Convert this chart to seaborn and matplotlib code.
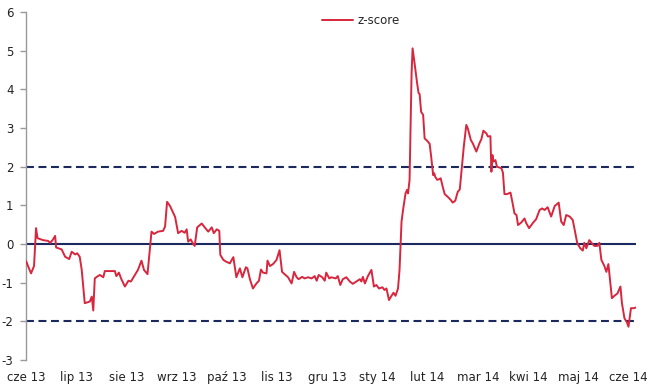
import matplotlib
matplotlib.use("Agg")
import matplotlib.pyplot as plt
import seaborn as sns
import pandas as pd

# months since "cze 13" (category-axis position) and z-score readings
t_month = [0.00, 0.10, 0.16, 0.20, 0.23, 0.34, 0.44, 0.48, 0.53, 0.58, 0.60, 0.71, 0.78, 0.86, 0.91,
           0.98, 1.02, 1.07, 1.11, 1.17, 1.27, 1.31, 1.34, 1.37, 1.41, 1.47, 1.54, 1.57, 1.71, 1.77,
           1.80, 1.85, 1.90, 1.97, 2.04, 2.09, 2.17, 2.23, 2.30, 2.35, 2.42, 2.50, 2.55, 2.63, 2.73,
           2.77, 2.81, 2.87, 2.97, 3.03, 3.10, 3.16, 3.20, 3.23, 3.28, 3.32, 3.36, 3.41, 3.50, 3.56,
           3.63, 3.70, 3.74, 3.80, 3.85, 3.87, 3.93, 3.99, 4.06, 4.13, 4.19, 4.26, 4.31, 4.38, 4.41,
           4.46, 4.52, 4.59, 4.64, 4.68, 4.72, 4.79, 4.81, 4.86, 4.92, 4.99, 5.05, 5.10, 5.15, 5.22,
           5.29, 5.34, 5.39, 5.43, 5.50, 5.55, 5.62, 5.69, 5.75, 5.79, 5.83, 5.90, 5.95, 5.98, 6.04,
           6.08, 6.17, 6.21, 6.26, 6.31, 6.38, 6.45, 6.51, 6.58, 6.65, 6.68, 6.71, 6.75, 6.81, 6.88,
           6.93, 6.98, 7.03, 7.10, 7.14, 7.18, 7.23, 7.28, 7.32, 7.36, 7.41, 7.44, 7.48, 7.51, 7.56,
           7.59, 7.61, 7.64, 7.68, 7.70, 7.74, 7.79, 7.82, 7.84, 7.87, 7.91, 7.94, 7.99, 8.04, 8.07,
           8.11, 8.13, 8.15, 8.19, 8.22, 8.26, 8.30, 8.34, 8.40, 8.46, 8.50, 8.55, 8.60, 8.64, 8.67,
           8.72, 8.77, 8.80, 8.86, 8.90, 8.97, 9.03, 9.07, 9.11, 9.17, 9.20, 9.25, 9.27, 9.29, 9.31,
           9.35, 9.38, 9.47, 9.50, 9.53, 9.58, 9.65, 9.69, 9.73, 9.77, 9.80, 9.86, 9.93, 9.96, 10.02,
           10.10, 10.16, 10.23, 10.28, 10.33, 10.39, 10.46, 10.53, 10.61, 10.66, 10.71, 10.76, 10.83, 10.89, 10.93,
           10.98, 11.04, 11.09, 11.12, 11.16, 11.22, 11.27, 11.32, 11.38, 11.42, 11.46, 11.52, 11.56, 11.60, 11.67,
           11.72, 11.78, 11.84, 11.87, 11.92, 11.97, 12.00, 12.05, 12.11, 12.15]

z_score = [-0.44, -0.76, -0.57, 0.41, 0.15, 0.10, 0.08, 0.03, 0.10, 0.21, -0.09, -0.14, -0.33, -0.39, -0.20,
           -0.27, -0.24, -0.33, -0.67, -1.53, -1.49, -1.36, -1.72, -0.89, -0.85, -0.80, -0.86, -0.70, -0.70, -0.70,
           -0.83, -0.74, -0.91, -1.10, -0.95, -0.97, -0.80, -0.67, -0.43, -0.67, -0.78, 0.32, 0.26, 0.32, 0.34,
           0.45, 1.09, 0.98, 0.70, 0.28, 0.34, 0.29, 0.38, 0.06, 0.12, 0.02, -0.05, 0.43, 0.53, 0.43,
           0.32, 0.43, 0.28, 0.38, 0.34, -0.28, -0.41, -0.46, -0.50, -0.34, -0.86, -0.63, -0.86, -0.60, -0.63,
           -0.91, -1.15, -1.02, -0.95, -0.66, -0.74, -0.76, -0.43, -0.57, -0.52, -0.41, -0.16, -0.72, -0.78, -0.86,
           -1.02, -0.72, -0.86, -0.91, -0.85, -0.89, -0.86, -0.89, -0.83, -0.95, -0.80, -0.86, -0.95, -0.74, -0.89,
           -0.86, -0.89, -0.83, -1.06, -0.91, -0.86, -0.97, -1.03, -0.97, -0.91, -0.97, -0.85, -1.02, -0.83, -0.67,
           -1.10, -1.06, -1.15, -1.12, -1.19, -1.15, -1.45, -1.34, -1.26, -1.34, -1.15, -0.67, 0.58, 0.88, 1.31,
           1.40, 1.31, 1.66, 4.41, 5.06, 4.67, 4.16, 3.90, 3.88, 3.42, 3.34, 2.73, 2.67, 2.59, 2.26,
           1.78, 1.83, 1.74, 1.66, 1.67, 1.70, 1.48, 1.29, 1.22, 1.14, 1.07, 1.12, 1.35, 1.41, 1.83,
           2.52, 3.08, 2.99, 2.69, 2.60, 2.39, 2.60, 2.71, 2.93, 2.86, 2.78, 2.79, 1.87, 2.30, 2.13,
           2.17, 2.00, 1.96, 1.84, 1.29, 1.29, 1.33, 1.07, 0.79, 0.75, 0.49, 0.55, 0.66, 0.55, 0.41,
           0.55, 0.64, 0.88, 0.92, 0.88, 0.95, 0.71, 0.98, 1.07, 0.58, 0.49, 0.75, 0.71, 0.62, 0.36,
           0.02, -0.11, -0.17, 0.03, -0.11, 0.10, 0.02, -0.05, -0.05, 0.03, -0.41, -0.57, -0.72, -0.52, -1.40,
           -1.34, -1.28, -1.10, -1.53, -1.92, -2.03, -2.14, -1.66, -1.66, -1.64]

month_labels = ["cze 13", "lip 13", "sie 13", "wrz 13", "paź 13", "lis 13", "gru 13",
                "sty 14", "lut 14", "mar 14", "kwi 14", "maj 14", "cze 14"]
y_ticks = [-3, -2, -1, 0, 1, 2, 3, 4, 5, 6]
band_levels = [-2, 2]
center_level = 0

df = pd.DataFrame({"t": t_month, "z-score": z_score})

sns.set_style("white")
plt.rcParams["font.family"] = ["DejaVu Sans"]

fig = plt.figure(figsize=(6.53, 3.92), dpi=100)
ax = fig.add_axes([26 / 653, 1 - 360 / 392, (636 - 26) / 653, (360 - 12) / 392])

navy = "#1b2a5e"
red = "#d7263d"

for lvl in band_levels:
    ax.axhline(lvl, color=navy, lw=1.5, dashes=(3.8, 2.2), zorder=1)
ax.axhline(center_level, color=navy, lw=1.5, zorder=1)

sns.lineplot(data=df, x="t", y="z-score", ax=ax, color=red, lw=1.4,
             label="z-score", zorder=3, estimator=None, sort=False)

ax.set_xlim(0, 12.15)
ax.set_ylim(-3, 6)
ax.set_yticks(y_ticks)
ax.set_yticklabels([str(v) for v in y_ticks], fontsize=8.5, color="#222222")
ax.set_xticks(range(len(month_labels)))
ax.set_xticklabels(month_labels, fontsize=8.5, color="#222222")
ax.set_xlabel("")
ax.set_ylabel("")

for side in ["top", "right", "bottom"]:
    ax.spines[side].set_visible(False)
ax.spines["left"].set_color("#999999")
ax.spines["left"].set_linewidth(1.0)
ax.tick_params(axis="y", which="major", direction="out", length=4, width=1.0,
               color="#999999", left=True, pad=5)
ax.tick_params(axis="x", which="major", length=0, pad=8)

leg = ax.legend(loc="center", bbox_to_anchor=(361 / 653, 1 - 21 / 392),
                bbox_transform=fig.transFigure, frameon=False, fontsize=8.5,
                handlelength=2.6, handletextpad=0.4)

fig.savefig("out.png", dpi=100, facecolor="white")
